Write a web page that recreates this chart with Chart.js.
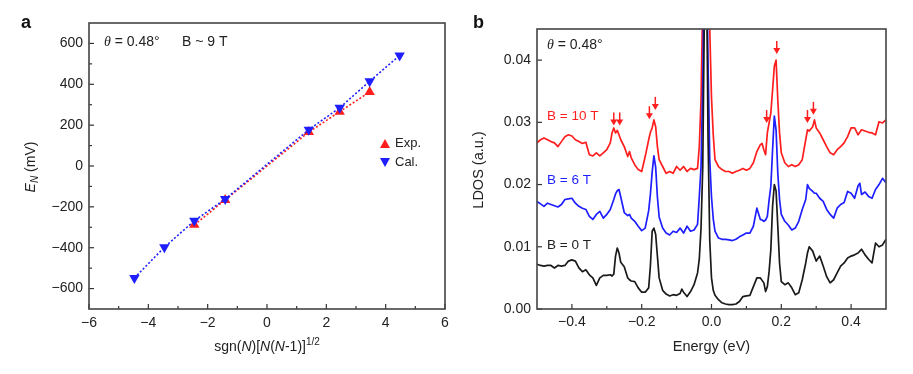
<!DOCTYPE html>
<html>
<head>
<meta charset="utf-8">
<script src="https://cdn.jsdelivr.net/npm/chart.js@4.4.0/dist/chart.umd.min.js"></script>
<style>
body { margin: 0; background: #fff; }
#wrap { position: relative; width: 913px; height: 374px; }
canvas { position: absolute; top: 0; }
</style>
</head>
<body>
<div id="wrap">
  <canvas id="chartA" width="460" height="374" style="left:0px"></canvas>
  <canvas id="chartB" width="453" height="374" style="left:460px"></canvas>
</div>
<script>
// ---- panel a: Landau level energies ----
const calX = [-4.47, -3.46, -2.45, -1.41, 1.41, 2.45, 3.46, 4.47];
const calE = [-548, -398, -268, -162, 178, 285, 415, 541];
const expX = [-2.45, -1.41, 1.41, 2.45, 3.46];
const expE = [-288, -166, 166, 266, 362];
const aXTicks = [-6, -4, -2, 0, 2, 4, 6];
const aXMinor = [-5, -3, -1, 1, 3, 5];
const aYTicks = [-600, -400, -200, 0, 200, 400, 600];
const aYMinor = [-500, -300, -100, 100, 300, 500];

// ---- panel b: LDOS spectra ----
const energy = [
  -0.50, -0.49, -0.48, -0.47, -0.46, -0.45, -0.44, -0.43, -0.42, -0.41, -0.40, -0.39, -0.38, -0.37, -0.36, -0.35, -0.34, -0.33, -0.32, -0.31, -0.30, -0.29,
  -0.285, -0.28, -0.275, -0.27, -0.265, -0.26, -0.25, -0.24, -0.235, -0.23, -0.22, -0.21, -0.20, -0.19, -0.18, -0.175, -0.17, -0.165, -0.16, -0.155, -0.15,
  -0.14, -0.13, -0.12, -0.11, -0.10, -0.09, -0.085, -0.08, -0.07, -0.06, -0.05, -0.04, -0.035, -0.03, -0.025, -0.02, -0.015, -0.01, -0.005, 0.0, 0.005,
  0.01, 0.02, 0.03, 0.04, 0.05, 0.06, 0.07, 0.08, 0.09, 0.10, 0.11, 0.12, 0.13, 0.14, 0.145, 0.15, 0.155, 0.16, 0.165, 0.17, 0.175,
  0.18, 0.185, 0.19, 0.195, 0.20, 0.21, 0.22, 0.23, 0.24, 0.25, 0.26, 0.27, 0.275, 0.28, 0.29, 0.295, 0.30, 0.31, 0.32, 0.33, 0.34,
  0.35, 0.36, 0.37, 0.38, 0.39, 0.40, 0.41, 0.42, 0.425, 0.43, 0.44, 0.45, 0.46, 0.47, 0.48, 0.49, 0.50
];
const ldos0T = [
  0.0072, 0.0070, 0.0069, 0.0070, 0.0070, 0.0066, 0.0070, 0.0069, 0.0070, 0.0077, 0.0079, 0.0077, 0.0066, 0.0060, 0.0063, 0.0055, 0.0050, 0.0038, 0.0050, 0.0054, 0.0054, 0.0055,
  0.0053, 0.0056, 0.0085, 0.0098, 0.0090, 0.0075, 0.0068, 0.0050, 0.0047, 0.0045, 0.0044, 0.0034, 0.0027, 0.0027, 0.0034, 0.0070, 0.0125, 0.0130, 0.0120, 0.0085, 0.0050,
  0.0030, 0.0024, 0.0021, 0.0023, 0.0022, 0.0025, 0.0032, 0.0027, 0.0020, 0.0028, 0.0039, 0.0058, 0.0080, 0.0130, 0.0230, 0.0500, 0.0600, 0.0280, 0.0110, 0.0050, 0.0030,
  0.0022, 0.0015, 0.0010, 0.0008, 0.0007, 0.0007, 0.0008, 0.0012, 0.0020, 0.0021, 0.0022, 0.0036, 0.0050, 0.0050, 0.0046, 0.0042, 0.0028, 0.0036, 0.0060, 0.0095, 0.0165,
  0.0200, 0.0190, 0.0133, 0.0074, 0.0044, 0.0039, 0.0042, 0.0034, 0.0023, 0.0026, 0.0047, 0.0074, 0.0090, 0.0100, 0.0093, 0.0085, 0.0077, 0.0085, 0.0069, 0.0052, 0.0042,
  0.0047, 0.0058, 0.0069, 0.0074, 0.0082, 0.0085, 0.0087, 0.0090, 0.0093, 0.0096, 0.0087, 0.0080, 0.0074, 0.0106, 0.0100, 0.0103, 0.0112
];
const ldos6T = [
  0.0173, 0.0169, 0.0165, 0.0170, 0.0168, 0.0166, 0.0164, 0.0168, 0.0176, 0.0177, 0.0178, 0.0170, 0.0165, 0.0162, 0.0160, 0.0149, 0.0144, 0.0152, 0.0157, 0.0146, 0.0152, 0.0160,
  0.0168, 0.0176, 0.0185, 0.0190, 0.0192, 0.0180, 0.0155, 0.0150, 0.0152, 0.0146, 0.0141, 0.0133, 0.0126, 0.0130, 0.0158, 0.0185, 0.0220, 0.0246, 0.0228, 0.0180, 0.0148,
  0.0130, 0.0122, 0.0119, 0.0125, 0.0123, 0.0130, 0.0126, 0.0122, 0.0133, 0.0125, 0.0127, 0.0136, 0.0180, 0.0229, 0.0363, 0.0600, 0.0600, 0.0400, 0.0240, 0.0180, 0.0145,
  0.0125, 0.0114, 0.0112, 0.0112, 0.0111, 0.0110, 0.0112, 0.0116, 0.0119, 0.0122, 0.0122, 0.0133, 0.0162, 0.0144, 0.0143, 0.0141, 0.0143, 0.0149, 0.0175, 0.0197, 0.0256,
  0.0310, 0.0288, 0.0218, 0.0176, 0.0152, 0.0141, 0.0135, 0.0127, 0.0130, 0.0141, 0.0160, 0.0176, 0.0200, 0.0194, 0.0189, 0.0186, 0.0186, 0.0178, 0.0173, 0.0160, 0.0152,
  0.0146, 0.0162, 0.0168, 0.0171, 0.0189, 0.0186, 0.0178, 0.0198, 0.0202, 0.0184, 0.0188, 0.0181, 0.0178, 0.0192, 0.0200, 0.0210, 0.0203
];
const ldos10T = [
  0.0267, 0.0272, 0.0275, 0.0272, 0.0269, 0.0267, 0.0261, 0.0269, 0.0277, 0.0280, 0.0278, 0.0272, 0.0269, 0.0266, 0.0268, 0.0248, 0.0246, 0.0251, 0.0246, 0.0251, 0.0256, 0.0267,
  0.0283, 0.0291, 0.0283, 0.0287, 0.0280, 0.0272, 0.0261, 0.0245, 0.0253, 0.0243, 0.0232, 0.0224, 0.0221, 0.0245, 0.0272, 0.0284, 0.0291, 0.0304, 0.0293, 0.0261, 0.0240,
  0.0229, 0.0218, 0.0221, 0.0218, 0.0229, 0.0223, 0.0226, 0.0229, 0.0221, 0.0226, 0.0224, 0.0226, 0.0261, 0.0336, 0.0500, 0.0700, 0.0700, 0.0600, 0.0450, 0.0340, 0.0280,
  0.0240, 0.0229, 0.0224, 0.0221, 0.0221, 0.0218, 0.0221, 0.0223, 0.0226, 0.0223, 0.0226, 0.0235, 0.0253, 0.0264, 0.0266, 0.0256, 0.0248, 0.0283, 0.0299, 0.0315, 0.0352,
  0.0390, 0.0400, 0.0336, 0.0283, 0.0251, 0.0235, 0.0229, 0.0232, 0.0229, 0.0232, 0.0240, 0.0272, 0.0288, 0.0286, 0.0293, 0.0304, 0.0291, 0.0283, 0.0272, 0.0261, 0.0251,
  0.0248, 0.0256, 0.0261, 0.0267, 0.0277, 0.0291, 0.0291, 0.0280, 0.0284, 0.0288, 0.0286, 0.0284, 0.0283, 0.0280, 0.0301, 0.0299, 0.0304
];
// red arrows marking split peaks (energy, tip height)
const arrowE = [-0.280, -0.263, -0.178, -0.161, 0.158, 0.187, 0.275, 0.292];
const arrowL = [0.0295, 0.0295, 0.0305, 0.0320, 0.0299, 0.0410, 0.0299, 0.0312];
const bXTicks = [-0.4, -0.2, 0.0, 0.2, 0.4];
const bXMinor = [-0.3, -0.1, 0.1, 0.3];
const bYTicks = [0, 0.01, 0.02, 0.03, 0.04];

const RED = 'rgb(255,30,30)';
const BLUE = 'rgb(30,30,255)';
const BLACK = '#1a1a1a';
const FONT = "'Liberation Sans', Arial, sans-serif";
const tickFont = { family: FONT, size: 14 };
const minus = v => String(v).replace('-', '\u2212');

function pts(xs, ys) {
  return xs.map((x, i) => ({ x: x, y: ys[i] }));
}

// draw runs of text with different fonts on one line
function richText(ctx, parts, x, y, align) {
  let w = 0;
  parts.forEach(p => { ctx.font = p.font; w += ctx.measureText(p.t).width; });
  let cx = align === 'center' ? x - w / 2 : x;
  ctx.textBaseline = 'middle';
  ctx.textAlign = 'left';
  parts.forEach(p => {
    ctx.font = p.font;
    ctx.fillStyle = p.color || '#222';
    ctx.fillText(p.t, cx, y + (p.dy || 0));
    cx += ctx.measureText(p.t).width;
  });
}

function frameAndTicks(chart, xMaj, xMin, yMaj, yMin) {
  const ctx = chart.ctx, a = chart.chartArea;
  const sx = chart.scales.x, sy = chart.scales.y;
  ctx.save();
  ctx.strokeStyle = '#333';
  ctx.lineWidth = 1.2;
  const tx = (v, len) => {
    const p = sx.getPixelForValue(v);
    ctx.beginPath(); ctx.moveTo(p, a.bottom); ctx.lineTo(p, a.bottom - len); ctx.stroke();
  };
  const ty = (v, len) => {
    const p = sy.getPixelForValue(v);
    ctx.beginPath(); ctx.moveTo(a.left, p); ctx.lineTo(a.left + len, p); ctx.stroke();
  };
  xMaj.forEach(v => tx(v, 5));
  xMin.forEach(v => tx(v, 3));
  yMaj.forEach(v => ty(v, 5));
  yMin.forEach(v => ty(v, 3));
  ctx.lineWidth = 1.6;
  ctx.strokeStyle = '#444';
  ctx.strokeRect(a.left, a.top, a.right - a.left, a.bottom - a.top);
  ctx.restore();
}

function axisOpts(min, max, ticks, fmt, fitKey, fitVal, pad) {
  return {
    type: 'linear', min: min, max: max,
    afterBuildTicks: s => { s.ticks = ticks.map(v => ({ value: v })); },
    afterFit: s => { s[fitKey] = fitVal; },
    grid: { display: false, drawTicks: false },
    border: { display: false },
    ticks: { padding: pad, color: '#222', font: tickFont, callback: fmt }
  };
}

const panelA = {
  id: 'panelA',
  afterDraw(chart) {
    const ctx = chart.ctx;
    frameAndTicks(chart, aXTicks, aXMinor, aYTicks, aYMinor);
    ctx.save();
    ctx.fillStyle = '#111';
    ctx.font = 'bold 18px ' + FONT;
    ctx.textAlign = 'left'; ctx.textBaseline = 'middle';
    ctx.fillText('a', 21, 23);
    const n = '14px ' + FONT, it = 'italic 14px ' + FONT;
    richText(ctx, [
      { t: '\u03b8', font: 'italic 14px "Liberation Serif", serif' },
      { t: ' = 0.48\u00b0', font: n }
    ], 104, 42, 'left');
    richText(ctx, [{ t: 'B ~ 9 T', font: n }], 182, 42, 'left');
    // x title
    richText(ctx, [
      { t: 'sgn(', font: n }, { t: 'N', font: it }, { t: ')[', font: n },
      { t: 'N', font: it }, { t: '(', font: n }, { t: 'N', font: it },
      { t: '-1)]', font: n }, { t: '1/2', font: '10px ' + FONT, dy: -5 }
    ], 267, 347, 'center');
    // y title
    ctx.translate(31, 167);
    ctx.rotate(-Math.PI / 2);
    richText(ctx, [
      { t: 'E', font: it }, { t: 'N', font: 'italic 10px ' + FONT, dy: 4 },
      { t: ' (mV)', font: n }
    ], 0, 0, 'center');
    ctx.restore();
    // legend
    ctx.save();
    const lx = 385;
    ctx.fillStyle = RED;
    ctx.beginPath(); ctx.moveTo(lx - 5, 148); ctx.lineTo(lx + 5, 148); ctx.lineTo(lx, 139); ctx.closePath(); ctx.fill();
    ctx.fillStyle = BLUE;
    ctx.beginPath(); ctx.moveTo(lx - 5, 158); ctx.lineTo(lx + 5, 158); ctx.lineTo(lx, 167); ctx.closePath(); ctx.fill();
    richText(ctx, [{ t: 'Exp.', font: '13px ' + FONT }], 395, 143, 'left');
    richText(ctx, [{ t: 'Cal.', font: '13px ' + FONT }], 395, 162, 'left');
    ctx.restore();
  }
};

const panelB = {
  id: 'panelB',
  afterDraw(chart) {
    const ctx = chart.ctx;
    const sx = chart.scales.x, sy = chart.scales.y;
    frameAndTicks(chart, bXTicks, bXMinor, bYTicks, []);
    ctx.save();
    ctx.fillStyle = '#111';
    ctx.font = 'bold 18px ' + FONT;
    ctx.textAlign = 'left'; ctx.textBaseline = 'middle';
    ctx.fillText('b', 13, 23);
    const n = '14px ' + FONT;
    richText(ctx, [
      { t: '\u03b8', font: 'italic 14px "Liberation Serif", serif' },
      { t: ' = 0.48\u00b0', font: n }
    ], 87, 45, 'left');
    richText(ctx, [{ t: 'B = 10 T', font: '13.5px ' + FONT, color: RED }], 87, 116, 'left');
    richText(ctx, [{ t: 'B = 6 T', font: '13.5px ' + FONT, color: BLUE }], 87, 180, 'left');
    richText(ctx, [{ t: 'B = 0 T', font: '13.5px ' + FONT, color: '#222' }], 87, 245, 'left');
    richText(ctx, [{ t: 'Energy (eV)', font: '14.5px ' + FONT }], sx.getPixelForValue(0), 347, 'center');
    ctx.translate(19, 170);
    ctx.rotate(-Math.PI / 2);
    richText(ctx, [{ t: 'LDOS (a.u.)', font: '14.5px ' + FONT }], 0, 0, 'center');
    ctx.restore();
    // arrows
    ctx.save();
    ctx.strokeStyle = RED; ctx.fillStyle = RED; ctx.lineWidth = 1.5;
    arrowE.forEach((e, i) => {
      const x = sx.getPixelForValue(e), y = sy.getPixelForValue(arrowL[i]);
      ctx.beginPath(); ctx.moveTo(x, y - 13); ctx.lineTo(x, y - 5); ctx.stroke();
      ctx.beginPath(); ctx.moveTo(x - 3.5, y - 6); ctx.lineTo(x + 3.5, y - 6); ctx.lineTo(x, y); ctx.closePath(); ctx.fill();
    });
    ctx.restore();
  }
};

new Chart(document.getElementById('chartA'), {
  type: 'scatter',
  data: {
    datasets: [
      {
        label: 'Cal.', data: pts(calX, calE), showLine: true,
        borderColor: BLUE, backgroundColor: BLUE, borderWidth: 1.6, borderDash: [2, 2],
        pointStyle: 'triangle', rotation: 180, pointRadius: 6, pointBorderWidth: 0
      },
      {
        label: 'Exp.', data: pts(expX, expE), showLine: true,
        borderColor: RED, backgroundColor: RED, borderWidth: 1.6, borderDash: [2, 2],
        pointStyle: 'triangle', pointRadius: 6, pointBorderWidth: 0
      }
    ]
  },
  options: {
    responsive: false, animation: false, devicePixelRatio: 1,
    layout: { padding: { left: 0, right: 15, top: 23, bottom: 0 } },
    plugins: { legend: { display: false }, tooltip: { enabled: false } },
    scales: {
      x: axisOpts(-6, 6, aXTicks, v => minus(v), 'height', 65, 6),
      y: axisOpts(-700, 700, aYTicks, v => minus(v), 'width', 89, 6)
    }
  },
  plugins: [panelA]
});

new Chart(document.getElementById('chartB'), {
  type: 'line',
  data: {
    datasets: [
      { label: 'B = 0 T', data: pts(energy, ldos0T), borderColor: BLACK },
      { label: 'B = 6 T', data: pts(energy, ldos6T), borderColor: BLUE },
      { label: 'B = 10 T', data: pts(energy, ldos10T), borderColor: RED }
    ]
  },
  options: {
    responsive: false, animation: false, devicePixelRatio: 1,
    layout: { padding: { left: 0, right: 27, top: 29, bottom: 0 } },
    elements: { point: { radius: 0 }, line: { borderWidth: 1.7, tension: 0, borderJoinStyle: 'round' } },
    plugins: { legend: { display: false }, tooltip: { enabled: false } },
    scales: {
      x: axisOpts(-0.5, 0.5, bXTicks, v => minus(v.toFixed(1)), 'height', 65, 5),
      y: axisOpts(0, 0.045, bYTicks, v => v.toFixed(2), 'width', 77, 6)
    }
  },
  plugins: [panelB]
});
</script>
</body>
</html>
